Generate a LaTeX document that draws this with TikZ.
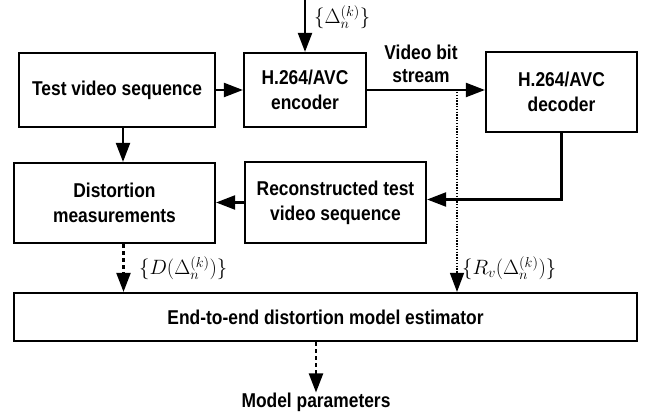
\documentclass[tikz,border=0pt]{standalone}
\usepackage{fontspec}
\newfontfamily\blocklabel[FakeStretch=0.87]{Liberation Sans}
\usetikzlibrary{arrows.meta,calc}
\tikzset{
  blk/.style={draw, line width=2.2pt, align=center, inner sep=0pt,
    font=\blocklabel\bfseries\fontsize{20}{25}\selectfont},
  flow/.style={line width=2.2pt, -{Triangle[length=19pt,width=14pt]}},
  dflow/.style={flow, dash pattern=on 4pt off 3pt},
  dotflow/.style={line width=1.4pt, dash pattern=on 1.4pt off 1.4pt, -{Triangle[length=19pt,width=14pt]}},
  txt/.style={font=\blocklabel\bfseries\fontsize{20}{23}\selectfont, align=center, inner sep=0pt},
  mathlbl/.style={font=\fontsize{20.74}{22}\selectfont, inner sep=0pt}
}
\begin{document}
\begin{tikzpicture}[x=1pt,y=-1pt]
\useasboundingbox (0,0) rectangle (647,419);

% processing blocks
\node[blk, minimum width=196pt, minimum height=74pt] (test) at (117,90) {Test video sequence};
\node[blk, minimum width=122pt, minimum height=74pt] (enc) at (305,90) {H.264/AVC\\encoder};
\node[blk, minimum width=151pt, minimum height=80pt] (dec) at (561.5,92) {H.264/AVC\\decoder};
\node[blk, minimum width=201pt, minimum height=80pt] (dist) at (114.5,203) {Distortion\\measurements};
\node[blk, minimum width=181pt, minimum height=81pt] (rec) at (335.5,202.5) {Reconstructed test\\video sequence};
\node[blk, minimum width=623pt, minimum height=48pt] (est) at (325.5,317) {End-to-end distortion model estimator};

% free ends and labels
\coordinate (qin) at (305,0);
\coordinate (tap) at (457,92);
\node[txt] (vbs) at (421,64) {Video bit\\stream};
\node[txt] (model) at (316,402) {Model parameters};
\node[mathlbl, anchor=west] (qlbl) at (314,17) {$\{\Delta_n^{(k)}\}$};
\node[mathlbl, anchor=west] (dlbl) at (139,268) {$\{D(\Delta_n^{(k)})\}$};
\node[mathlbl, anchor=west] (rlbl) at (462,268) {$\{R_v(\Delta_n^{(k)})\}$};

% connectors
\draw[flow] (qin) -- (enc.north);
\draw[flow] (test.east) -- (enc.west);
\draw[flow] (enc.east) -- (enc.east -| dec.west);
\draw[flow] ([xshift=6pt]test.south) -- ([xshift=6pt]test.south |- dist.north);
\draw[flow] (dec.south) |- ([yshift=3pt]rec.east);
\draw[flow] (rec.west) -- (rec.west -| dist.east);
\draw[dflow] ([xshift=9pt]dist.south) -- ([xshift=9pt]dist.south |- est.north);
\draw[dotflow] (tap) -- (tap |- est.north);
\draw[dflow] (est.south -| model) -- (model.north);
\end{tikzpicture}
\end{document}
